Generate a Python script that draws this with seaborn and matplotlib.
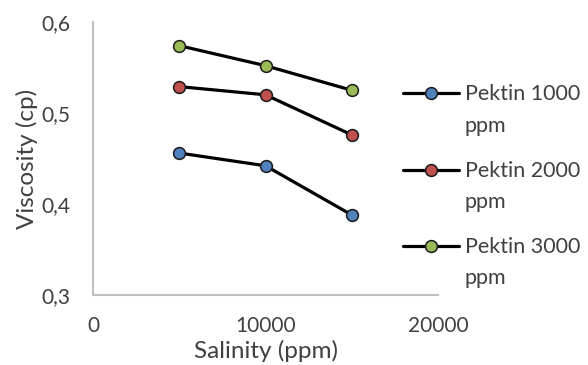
import matplotlib
matplotlib.use("Agg")
from matplotlib import pyplot as plt
from matplotlib import ticker
from matplotlib.legend_handler import HandlerLine2D
import pandas as pd
import seaborn as sns

# data
salinity = [5000, 10000, 15000]
pektin_1000 = [0.456, 0.442, 0.388]
pektin_2000 = [0.529, 0.520, 0.476]
pektin_3000 = [0.574, 0.552, 0.525]
labels = ["Pektin 1000\nppm", "Pektin 2000\nppm", "Pektin 3000\nppm"]
colors = ["#4f81bd", "#c0504d", "#9bbb59"]

rows = []
for lab, vals in zip(labels, [pektin_1000, pektin_2000, pektin_3000]):
    for x, y in zip(salinity, vals):
        rows.append({"Salinity": x, "Viscosity": y, "series": lab})
df = pd.DataFrame(rows)


class UpperHandler(HandlerLine2D):
    # put legend handle next to the first line of a two-line label
    def create_artists(self, legend, orig_handle, xdescent, ydescent,
                       width, height, fontsize, trans):
        return super().create_artists(legend, orig_handle, xdescent,
                                      ydescent - 1.6 * fontsize, width,
                                      height, fontsize, trans)


sns.set_style("white")
plt.rcParams["font.family"] = ["Lato", "DejaVu Sans"]
txt = "#404040"

fig = plt.figure(figsize=(5.88, 3.65), dpi=100)
ax = fig.add_axes([93 / 588, 1 - 295 / 365, 345 / 588, 273 / 365])

for lab, col in zip(labels, colors):
    sub = df[df["series"] == lab]
    sns.lineplot(data=sub, x="Salinity", y="Viscosity", ax=ax, color="black",
                 linewidth=2.3, marker="o", markersize=8.5,
                 markerfacecolor=col, markeredgecolor="#1a1a1a",
                 markeredgewidth=1.1, label=lab)

ax.set_xlim(0, 20000)
ax.set_ylim(0.3, 0.6)
ax.set_xticks([0, 10000, 20000])
ax.set_yticks([0.3, 0.4, 0.5, 0.6])
ax.yaxis.set_major_formatter(ticker.FuncFormatter(
    lambda v, p: "{:.1f}".format(v).replace(".", ",")))
ax.tick_params(length=0, labelsize=15, colors=txt)
ax.tick_params(axis="y", pad=16)
ax.tick_params(axis="x", pad=15)

for s in ["top", "right"]:
    ax.spines[s].set_visible(False)
for s in ["left", "bottom"]:
    ax.spines[s].set_color("#bfbfbf")
    ax.spines[s].set_linewidth(1.5)

ax.set_xlabel("Salinity (ppm)", fontsize=17.5, color=txt, labelpad=3)
ax.set_ylabel("Viscosity (cp)", fontsize=17.5, color=txt, labelpad=3)

ax.get_legend().remove()
handles, lbls = ax.get_legend_handles_labels()
leg = fig.legend(handles, lbls, loc="upper left",
                 bbox_to_anchor=(384 / 588, 1 - 65 / 365), frameon=False,
                 fontsize=15.5, handlelength=2.6, handletextpad=0.25,
                 labelspacing=1.15, labelcolor=txt,
                 handler_map={plt.Line2D: UpperHandler()})
for t in leg.get_texts():
    t.set_linespacing(1.72)

fig.savefig("out.png", dpi=100)
